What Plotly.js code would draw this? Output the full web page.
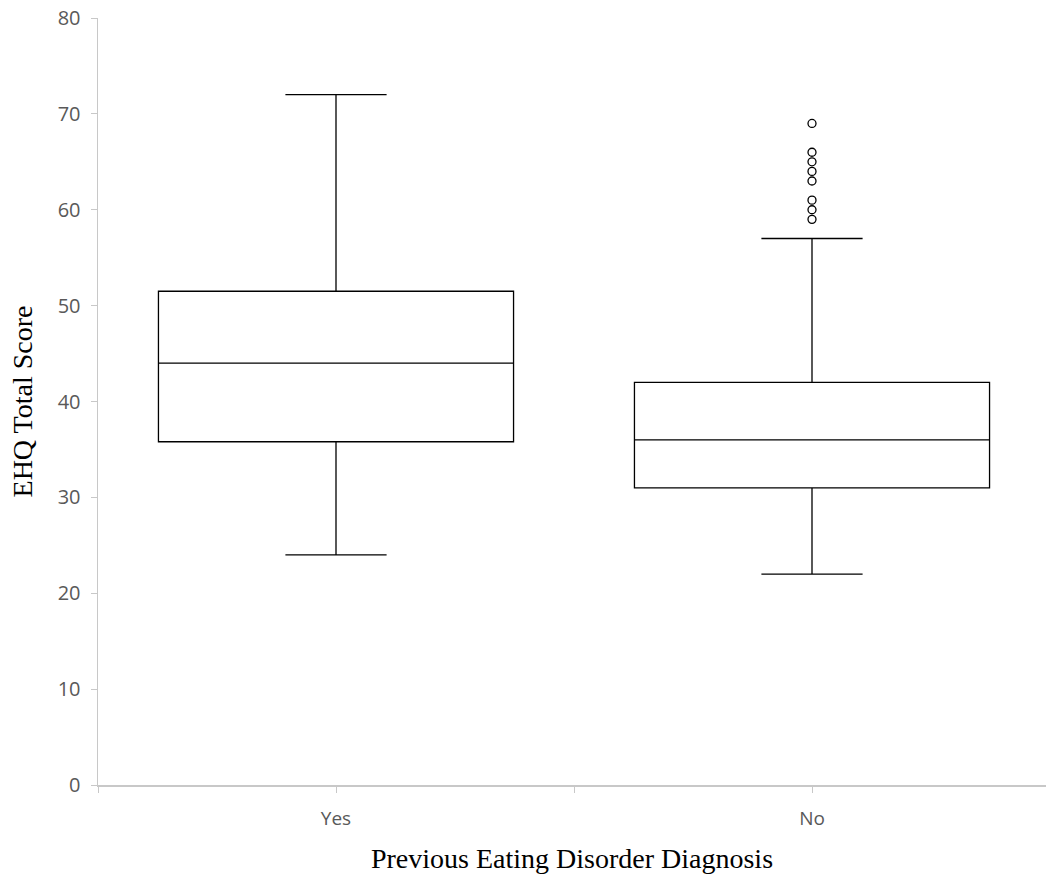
<!DOCTYPE html>
<html>
<head>
<meta charset="utf-8">
<script src="https://cdn.plot.ly/plotly-3.0.1.min.js"></script>
<style>html,body{margin:0;padding:0;background:#fff;}#chart{width:1046px;height:888px;}</style>
</head>
<body>
<div id="chart"></div>
<script>
const categories = ["Yes", "No"];
const positions = [0, 1];
const lowerFence = [24, 22];
const q1 = [35.8, 31];
const median = [44, 36];
const q3 = [51.5, 42];
const upperFence = [72, 57];
const outliersNo = [69, 66, 65, 64, 63, 61, 60, 59];
const yTicks = [0, 10, 20, 30, 40, 50, 60, 70, 80];

const boxTrace = {
  type: "box",
  x: positions,
  q1: q1, median: median, q3: q3,
  lowerfence: lowerFence, upperfence: upperFence,
  width: 0.746,
  whiskerwidth: 0.285,
  fillcolor: "rgba(255,255,255,0)",
  line: {color: "#000000", width: 1.3},
  boxpoints: false,
  hoverinfo: "skip",
  showlegend: false
};
const outlierTrace = {
  type: "scatter",
  mode: "markers",
  x: outliersNo.map(() => positions[1]),
  y: outliersNo,
  marker: {symbol: "circle-open", size: 8, color: "#000000", line: {width: 1.3, color: "#000000"}},
  hoverinfo: "skip",
  showlegend: false
};

const layout = {
  width: 1046, height: 888,
  margin: {l: 98, r: 0, t: 18, b: 103},
  paper_bgcolor: "#ffffff", plot_bgcolor: "#ffffff",
  showlegend: false,
  xaxis: {
    range: [-0.5, 1.4916],
    tickmode: "array",
    tickvals: [-0.5, 0, 0.5, 1, 1.5],
    ticktext: ["", categories[0], "", categories[1], ""],
    ticks: "outside", ticklen: 6, tickcolor: "#c8c8c8", tickwidth: 1,
    showline: true, linecolor: "#c8c8c8", linewidth: 1.5,
    showgrid: false, zeroline: false,
    tickfont: {family: "Open Sans", size: 19, color: "#595959"},
    ticklabelstandoff: 10,
    title: {text: "Previous Eating Disorder Diagnosis", font: {family: "Liberation Serif", size: 28, color: "#000000"}, standoff: 18}
  },
  yaxis: {
    range: [0, 80],
    tickmode: "array",
    tickvals: yTicks,
    ticktext: yTicks.map(String),
    ticks: "outside", ticklen: 6, tickcolor: "#c8c8c8", tickwidth: 1,
    showline: true, linecolor: "#c8c8c8", linewidth: 1.5,
    showgrid: false, zeroline: false,
    tickfont: {family: "Open Sans", size: 20, color: "#595959"},
    ticklabelstandoff: 6,
    title: {text: "EHQ Total Score", font: {family: "Liberation Serif", size: 28, color: "#000000"}, standoff: 17}
  }
};

Plotly.newPlot("chart", [boxTrace, outlierTrace], layout, {displayModeBar: false, staticPlot: true});
</script>
</body>
</html>
